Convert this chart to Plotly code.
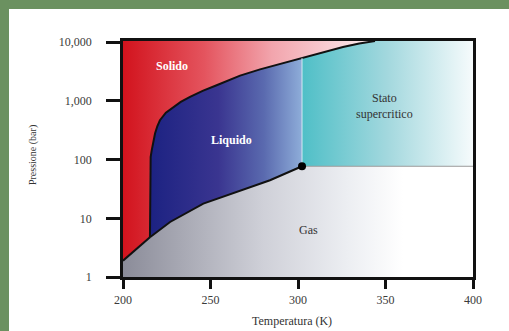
import math
import plotly.graph_objects as go

# ---- data ----
# sublimation curve (solid-gas)
sub_T = [200.0, 207.8, 215.4]
sub_P = [1.9, 3.05, 4.75]
# vaporization curve (liquid-gas), triple point -> critical point
vap_T = [215.4, 226.9, 245.9, 265.0, 284.0, 302.3]
vap_P = [4.75, 8.66, 17.8, 28.1, 44.5, 77.0]
# melting curve (solid-liquid / solid-supercritical), triple point -> top
melt_T = [215.4, 215.4, 215.8, 216.4, 217.2, 218.3, 219.6, 221.1, 224.5, 228.7, 233.0,
          238.3, 245.5, 253.5, 260.0, 266.9, 278.3, 290.0, 302.3, 314.0, 325.7, 335.0, 344.0]
melt_P = [4.75, 65.9, 110, 144, 200, 278, 370, 469, 630, 790, 960,
          1170, 1480, 1850, 2240, 2700, 3450, 4300, 5400, 6750, 8300, 9500, 10500]
# critical point
crit_T = 302.3
crit_P = 77.0

# axes
T_min, T_max = 200, 400
P_min, P_max = 1, 10500
x_ticks = [200, 250, 300, 350, 400]
y_ticks = [1, 10, 100, 1000, 10000]
y_ticktext = ["1", "10", "100", "1,000", "10,000"]

# labels
region_names = ["Solido", "Liquido", "Stato<br>supercritico", "Gas"]

# ---- build region polygons from the curves ----
i_c = melt_T.index(crit_T)

solid_x = [T_min, T_min, melt_T[-1]] + melt_T[::-1] + sub_T[::-1]
solid_y = [sub_P[0], P_max, P_max] + melt_P[::-1] + sub_P[::-1]

liq_x = melt_T[: i_c + 1] + vap_T[::-1]
liq_y = melt_P[: i_c + 1] + vap_P[::-1]

sc_x = melt_T[i_c:] + [T_max, T_max, crit_T]
sc_y = melt_P[i_c:] + [P_max, crit_P, crit_P]

gas_x = [T_min] + sub_T + vap_T[1:] + [T_max, T_max, T_min]
gas_y = [P_min] + sub_P + vap_P[1:] + [crit_P, P_min, P_min]

fig = go.Figure()


def region(x, y, scale, start, stop):
    fig.add_trace(go.Scatter(
        x=x, y=y, mode="lines", fill="toself",
        line=dict(width=0),
        fillgradient=dict(type="horizontal", colorscale=scale, start=start, stop=stop),
        hoverinfo="skip", showlegend=False))


region(solid_x, solid_y,
       [[0, "#d2131d"], [0.3, "#e4545e"], [0.55, "#f2a5ad"], [0.8, "#f9d5da"], [1, "#ffffff"]],
       200, 355)
region(liq_x, liq_y,
       [[0, "#1c2282"], [0.45, "#3a3590"], [0.75, "#5a6aaf"], [1, "#8eadd9"]],
       215.4, 302.3)
region(sc_x, sc_y,
       [[0, "#4fbfc7"], [0.5, "#a3d8de"], [1, "#f6fbfc"]],
       302.3, 400)
region(gas_x, gas_y,
       [[0, "#8b8c99"], [0.5, "#cfd0d8"], [0.8, "#eceef2"], [1, "#ffffff"]],
       200, 360)

# boundaries
line_style = dict(color="#111111", width=2)
for bx, by in [(sub_T, sub_P), (vap_T, vap_P), (melt_T, melt_P)]:
    fig.add_trace(go.Scatter(x=bx, y=by, mode="lines", line=line_style,
                             hoverinfo="skip", showlegend=False))
fig.add_trace(go.Scatter(x=[crit_T, crit_T], y=[crit_P, melt_P[i_c]], mode="lines",
                         line=dict(color="rgba(235,245,250,0.8)", width=1),
                         hoverinfo="skip", showlegend=False))
fig.add_trace(go.Scatter(x=[crit_T, T_max], y=[crit_P, crit_P], mode="lines",
                         line=dict(color="#9a9a9a", width=1),
                         hoverinfo="skip", showlegend=False))
fig.add_trace(go.Scatter(x=[crit_T], y=[crit_P], mode="markers",
                         marker=dict(color="#000000", size=8),
                         hoverinfo="skip", showlegend=False))

serif = "Liberation Serif, Times New Roman, serif"

ann = [
    dict(x=227.8, y=math.log10(3890), text="<b>" + region_names[0] + "</b>",
         font=dict(color="#ffffff", size=12, family=serif)),
    dict(x=262.1, y=math.log10(214), text="<b>" + region_names[1] + "</b>",
         font=dict(color="#ffffff", size=12, family=serif)),
    dict(x=349.7, y=math.log10(828), text=region_names[2],
         font=dict(color="#333333", size=12, family=serif)),
    dict(x=305.9, y=math.log10(6.43), text=region_names[3],
         font=dict(color="#333333", size=12, family=serif)),
]
for a in ann:
    a.update(xref="x", yref="y", showarrow=False, xanchor="center", yanchor="middle")

ann.append(dict(xref="paper", yref="paper", x=0.483, y=-0.186, text="Temperatura (K)",
                xanchor="center", yanchor="middle",
                showarrow=False, font=dict(color="#333333", size=12, family=serif)))
ann.append(dict(xref="paper", yref="paper", x=-0.257, y=0.517, text="Pressione (bar)",
                xanchor="center", yanchor="middle",
                textangle=-90, showarrow=False,
                font=dict(color="#333333", size=10, family=serif)))

green = "#6b9160"
shapes = [
    dict(type="rect", xref="paper", yref="paper", x0=-0.5, x1=-0.3257, y0=-0.5, y1=1.5,
         fillcolor=green, line=dict(width=0), layer="below"),
    dict(type="rect", xref="paper", yref="paper", x0=-0.5, x1=1.5, y0=1.1356, y1=1.5,
         fillcolor=green, line=dict(width=0), layer="below"),
]

fig.update_layout(
    width=509, height=331,
    margin=dict(l=123, r=36, t=41, b=54),
    paper_bgcolor="#ffffff", plot_bgcolor="#ffffff",
    annotations=ann, shapes=shapes,
    xaxis=dict(range=[T_min, T_max], tickvals=x_ticks, showgrid=False, zeroline=False,
               showline=True, linecolor="#111111", linewidth=2.5, mirror=True,
               ticks="outside", ticklen=9, tickwidth=3, tickcolor="#111111",
               ticklabelstandoff=1,
               tickfont=dict(family=serif, size=12, color="#3a3a3a")),
    yaxis=dict(type="log", range=[0, math.log10(P_max)], tickvals=y_ticks,
               ticktext=y_ticktext, showgrid=False, zeroline=False,
               showline=True, linecolor="#111111", linewidth=2.5, mirror=True,
               ticks="outside", ticklen=14, tickwidth=3, tickcolor="#111111",
               ticklabelstandoff=12,
               tickfont=dict(family=serif, size=12, color="#3a3a3a")),
)

fig.write_html("out.html", config={"displayModeBar": False},
               post_script="document.body.style.margin='0';document.body.style.overflow='hidden';")
